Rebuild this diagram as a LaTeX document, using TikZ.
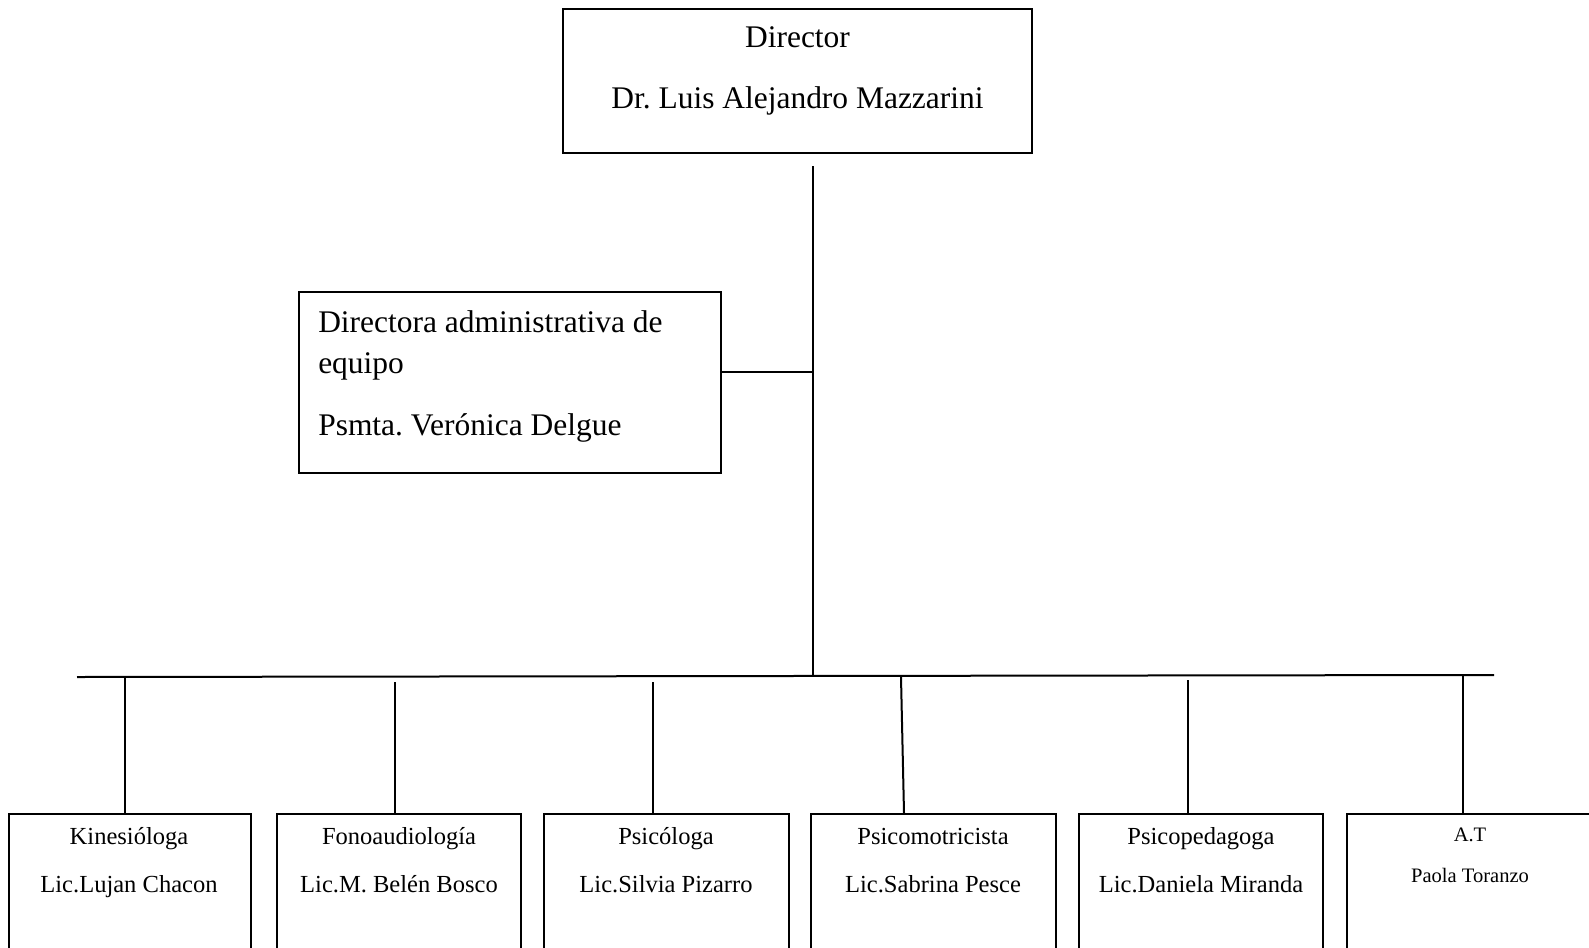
\documentclass[tikz,border=0pt]{standalone}
\usepackage{fontspec}
\setmainfont{Liberation Serif}
\frenchspacing
\begin{document}
\begin{tikzpicture}[x=0.75pt,y=-0.75pt,
  box/.style={draw=black,line width=1.5pt,rectangle,inner sep=0pt,fill=white},
  wire/.style={draw=black,line width=1.5pt},
  bigtxt/.style={inner sep=0pt,font=\fontsize{23.6pt}{28pt}\selectfont},
  smalltxt/.style={inner sep=0pt,font=\fontsize{18.4pt}{22pt}\selectfont},
  tinytxt/.style={inner sep=0pt,font=\fontsize{15.4pt}{18pt}\selectfont},
  staff/.style={box,anchor=north,minimum height=150pt}]
\useasboundingbox (0,0) rectangle (1589,947);
\clip (0,0) rectangle (1589,947);
\fill[white] (0,0) rectangle (1589,947);

% Director
\node[box,minimum width=351.75pt,minimum height=108pt] (dir) at (797.5,80.5) {};
\node[bigtxt,anchor=base] (dirt1) at (797.5,47) {Director};
\node[bigtxt,anchor=base] (dirt2) at (797.5,108) {Dr. Luis Alejandro Mazzarini};

% Administrative director
\node[box,minimum width=316.5pt,minimum height=135.75pt] (adm) at (510,382.5) {};
\node[bigtxt,anchor=base west] (admt1) at (318,332) {Directora administrativa de};
\node[bigtxt,anchor=base west] (admt2) at (318,373) {equipo};
\node[bigtxt,anchor=base west] (admt3) at (318,435) {Psmta. Verónica Delgue};

% Staff boxes
\node[staff,minimum width=181.5pt] (b1) at (130,813) {};
\node[staff,minimum width=183pt] (b2) at (399,813) {};
\node[staff,minimum width=183.75pt] (b3) at (666.5,813) {};
\node[staff,minimum width=183.75pt] (b4) at (933.5,813) {};
\node[staff,minimum width=183pt] (b5) at (1201,813) {};
\node[staff,minimum width=183pt] (b6) at (1469,813) {};

\node[smalltxt,anchor=base] (t1a) at (129,844) {Kinesióloga};
\node[smalltxt,anchor=base] (t1b) at (129,892) {Lic.Lujan Chacon};
\node[smalltxt,anchor=base] (t2a) at (399,844) {Fonoaudiología};
\node[smalltxt,anchor=base] (t2b) at (399,892) {Lic.M. Belén Bosco};
\node[smalltxt,anchor=base] (t3a) at (666,844) {Psicóloga};
\node[smalltxt,anchor=base] (t3b) at (666,892) {Lic.Silvia Pizarro};
\node[smalltxt,anchor=base] (t4a) at (933,844) {Psicomotricista};
\node[smalltxt,anchor=base] (t4b) at (933,892) {Lic.Sabrina Pesce};
\node[smalltxt,anchor=base] (t5a) at (1201,844) {Psicopedagoga};
\node[smalltxt,anchor=base] (t5b) at (1201,892) {Lic.Daniela Miranda};
\node[tinytxt,anchor=base] (t6a) at (1470,841) {A.T};
\node[tinytxt,anchor=base] (t6b) at (1470,882) {Paola Toranzo};

% Connectors
\coordinate (vtop) at (813,166);
\coordinate (vbot) at (813,676);
\coordinate (ajoin) at (813,372);
\coordinate (hl) at (77,677);
\coordinate (hr) at (1494,675);
\draw[wire] (vtop) -- (vbot);
\draw[wire] (ajoin -| adm.east) -- (ajoin);
\draw[wire] (hl) -- (hr);

\coordinate (d1) at (125,677);
\coordinate (d2) at (395,682);
\coordinate (d3) at (653,682);
\coordinate (d4) at (901,677);
\coordinate (d4e) at (904,813);
\coordinate (d5) at (1188,680);
\coordinate (d6) at (1463,676);
\draw[wire] (d1) -- (d1 |- b1.north);
\draw[wire] (d2) -- (d2 |- b2.north);
\draw[wire] (d3) -- (d3 |- b3.north);
\draw[wire] (d4) -- (d4e);
\draw[wire] (d5) -- (d5 |- b5.north);
\draw[wire] (d6) -- (d6 |- b6.north);
\end{tikzpicture}
\end{document}
